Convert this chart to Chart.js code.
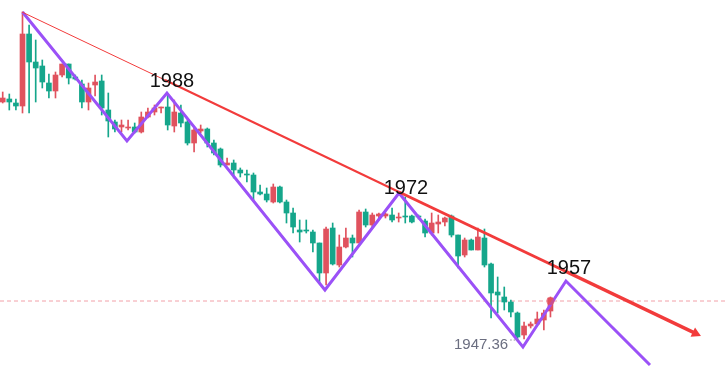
<!DOCTYPE html>
<html>
<head>
<meta charset="utf-8">
<script src="https://cdn.jsdelivr.net/npm/chart.js@4.4.1/dist/chart.umd.min.js"></script>
<style>
  html, body { margin: 0; padding: 0; background: #fff; }
  #wrap { width: 726px; height: 375px; position: relative; }
</style>
</head>
<body>
<div id="wrap"><canvas id="chart"></canvas></div>
<script>
// candles, one per slot (index 0..83)
const open = [
  1986.56, 1987.04, 1986.40, 1985.92, 1997.44, 1992.96, 1992.32, 1989.60, 1988.32, 1990.88,
  1992.64, 1990.56, 1989.44, 1986.56, 1989.28, 1989.92, 1985.28, 1983.36, 1982.56, 1982.40,
  1982.56, 1981.76, 1984.16, 1984.96, 1985.60, 1985.76, 1982.72, 1984.80, 1983.36, 1980.00,
  1981.92, 1982.24, 1980.00, 1979.04, 1976.48, 1976.80, 1975.68, 1975.04, 1974.88, 1972.16,
  1971.84, 1970.56, 1972.96, 1970.56, 1968.80, 1966.08, 1966.08, 1965.76, 1964.00, 1959.20,
  1966.40, 1960.48, 1963.36, 1964.80, 1964.00, 1968.96, 1966.88, 1968.32, 1968.32, 1968.48,
  1968.00, 1968.32, 1968.32, 1968.32, 1967.52, 1965.60, 1967.04, 1967.36, 1968.32, 1965.28,
  1962.08, 1964.48, 1962.88, 1964.80, 1960.64, 1956.16, 1955.36, 1954.56, 1952.80, 1949.28,
  1950.72, 1951.04, 1951.68, 1953.12
];
const high = [
  1988.16, 1987.84, 1987.04, 2000.96, 1998.88, 1996.48, 1993.28, 1991.04, 1991.36, 1992.64,
  1992.64, 1990.88, 1990.08, 1989.60, 1990.88, 1990.88, 1988.00, 1983.68, 1983.68, 1983.68,
  1983.20, 1984.96, 1985.60, 1986.08, 1985.76, 1987.68, 1986.88, 1986.08, 1983.68, 1982.56,
  1982.88, 1982.40, 1980.48, 1979.20, 1977.60, 1977.28, 1976.00, 1975.68, 1975.20, 1973.28,
  1972.80, 1973.44, 1973.12, 1970.88, 1969.60, 1967.68, 1967.68, 1966.08, 1964.00, 1966.56,
  1967.20, 1965.28, 1966.40, 1965.28, 1969.28, 1969.44, 1968.80, 1968.80, 1968.80, 1969.60,
  1968.80, 1971.36, 1968.48, 1968.48, 1967.84, 1968.80, 1968.48, 1968.16, 1968.48, 1965.28,
  1964.80, 1964.64, 1966.40, 1966.24, 1960.80, 1958.56, 1956.96, 1954.88, 1952.96, 1951.36,
  1951.36, 1952.96, 1953.28, 1955.36
];
const low = [
  1986.40, 1985.28, 1985.28, 1984.80, 1984.80, 1986.56, 1988.80, 1987.20, 1987.20, 1990.56,
  1989.44, 1990.08, 1985.60, 1985.28, 1987.52, 1984.48, 1980.96, 1981.76, 1981.76, 1982.08,
  1981.60, 1981.60, 1984.00, 1984.48, 1984.80, 1982.08, 1981.76, 1982.56, 1979.68, 1978.56,
  1981.60, 1979.36, 1978.08, 1976.16, 1976.48, 1974.40, 1974.56, 1973.76, 1970.88, 1971.68,
  1970.56, 1970.40, 1970.40, 1967.20, 1965.60, 1964.16, 1965.60, 1962.56, 1957.60, 1957.28,
  1960.48, 1960.16, 1963.20, 1961.76, 1964.00, 1966.56, 1966.56, 1967.68, 1968.00, 1967.36,
  1967.36, 1967.20, 1967.20, 1967.84, 1964.96, 1965.28, 1965.60, 1966.72, 1964.96, 1960.00,
  1961.76, 1962.88, 1962.88, 1960.16, 1952.00, 1952.80, 1953.28, 1952.16, 1948.48, 1948.64,
  1950.40, 1950.72, 1950.08, 1952.16
];
const close = [
  1987.20, 1986.56, 1985.92, 1997.44, 1992.96, 1992.00, 1989.76, 1988.32, 1990.88, 1992.64,
  1990.40, 1990.24, 1986.56, 1988.80, 1989.76, 1985.60, 1983.52, 1982.24, 1982.88, 1982.56,
  1981.76, 1984.16, 1984.96, 1985.60, 1985.76, 1982.88, 1984.96, 1983.20, 1980.00, 1982.08,
  1982.24, 1980.00, 1978.40, 1976.48, 1976.80, 1975.68, 1975.20, 1974.88, 1972.16, 1971.84,
  1970.88, 1972.96, 1970.56, 1968.80, 1966.56, 1965.76, 1965.92, 1964.00, 1959.20, 1966.24,
  1960.64, 1963.36, 1964.80, 1964.00, 1968.96, 1966.88, 1968.48, 1968.64, 1968.64, 1967.68,
  1968.16, 1968.16, 1967.36, 1968.16, 1965.60, 1967.20, 1967.36, 1968.00, 1965.28, 1961.92,
  1964.48, 1962.88, 1964.96, 1960.48, 1956.00, 1955.68, 1954.56, 1952.96, 1948.96, 1950.72,
  1951.04, 1951.84, 1952.80, 1955.20
];

// wave (zigzag) pivots: slot index / price
const waveX = [3, 18.83, 24.89, 48.83, 60.05, 78.83, 85.35, 98.08];
const waveY = [2000.96, 1980.32, 1988.00, 1956.48, 1972.00, 1947.36, 1957.92, 1944.48];

// falling trend line, read at a few spots along it
const trendX = [2.92, 24.59, 60.05, 85.35, 104.98];
const trendY = [2000.96, 1990.08, 1972.16, 1959.44, 1949.54];

const currentPrice = 1954.72;
const lowPrice = '1947.36';

const RED = '#e0525e';
const GREEN = '#15a68b';
const PURPLE = '#9b51f7';
const TREND = '#f23b3b';

const slots = open.map((_, i) => i);
const candleColors = slots.map(i => close[i] >= open[i] ? RED : GREEN);
const X_MIN = -0.41, X_MAX = 109.6;

const textPlugin = {
  id: 'waveText',
  afterDatasetsDraw(chart) {
    const { ctx, scales: { x, y } } = chart;
    ctx.save();
    ctx.fillStyle = '#111';
    ctx.font = '20px "Liberation Sans", Arial, sans-serif';
    ctx.textAlign = 'center';
    ctx.textBaseline = 'alphabetic';
    [['1988', 25.65, 1988.96], ['1972', 61.1, 1971.84], ['1957', 85.8, 1959.04]].forEach(([t, a, b]) => {
      ctx.fillText(t, x.getPixelForValue(a), y.getPixelForValue(b));
    });
    // low price tag
    ctx.fillStyle = '#6b6e80';
    ctx.font = '15px "Liberation Sans", Arial, sans-serif';
    ctx.textAlign = 'left';
    const lx = x.getPixelForValue(68.38), ly = y.getPixelForValue(1947.04);
    ctx.fillText(lowPrice, lx, ly);
    const w = ctx.measureText(lowPrice).width;
    ctx.strokeStyle = '#8a8c99';
    ctx.lineWidth = 1;
    ctx.setLineDash([1.5, 2]);
    ctx.beginPath();
    ctx.moveTo(lx + w + 2, ly - 9);
    ctx.lineTo(lx + w + 10, ly - 9);
    ctx.stroke();
    ctx.restore();
  }
};

new Chart(document.getElementById('chart'), {
  type: 'bar',
  data: {
    datasets: [
      {
        label: 'wick',
        data: slots.map(i => ({ x: i, y: [low[i], high[i]] })),
        backgroundColor: candleColors,
        grouped: false,
        barPercentage: 1,
        categoryPercentage: 1,
        maxBarThickness: 1,
        order: 9
      },
      {
        label: 'body',
        data: slots.map(i => ({ x: i, y: [Math.min(open[i], close[i]), Math.max(open[i], close[i])] })),
        backgroundColor: candleColors,
        grouped: false,
        barPercentage: 1,
        categoryPercentage: 1,
        maxBarThickness: 5,
        minBarLength: 1,
        order: 8
      },
      {
        type: 'line',
        label: 'price',
        data: [{ x: X_MIN, y: currentPrice }, { x: X_MAX, y: currentPrice }],
        borderColor: '#f2a0a8',
        borderWidth: 1,
        borderDash: [4, 3],
        pointRadius: 0,
        order: 10
      },
      {
        type: 'line',
        label: 'wave',
        data: waveX.map((v, i) => ({ x: v, y: waveY[i] })),
        borderColor: PURPLE,
        borderWidth: 3,
        pointRadius: 0,
        tension: 0,
        order: 3
      },
      {
        type: 'line',
        label: 'trend',
        data: trendX.map((v, i) => ({ x: v, y: trendY[i] })),
        borderColor: TREND,
        borderWidth: 3,
        segment: { borderWidth: c => [1, 2, 3, 3.5][c.p0DataIndex] },
        pointRadius: 0,
        order: 2
      },
      {
        type: 'line',
        label: 'arrow',
        showLine: false,
        data: [{ x: trendX[trendX.length - 1], y: trendY[trendY.length - 1] }],
        pointStyle: 'triangle',
        pointRadius: 6,
        pointRotation: 115.5,
        backgroundColor: TREND,
        borderColor: TREND,
        borderWidth: 0,
        order: 1
      },
      {
        type: 'line',
        label: 'now',
        showLine: false,
        data: [{ x: 83, y: currentPrice }],
        pointRadius: 4,
        backgroundColor: 'rgba(226, 80, 92, 0.65)',
        borderWidth: 0,
        order: 0
      }
    ]
  },
  options: {
    responsive: true,
    maintainAspectRatio: false,
    animation: false,
    events: [],
    layout: { padding: 0, autoPadding: false },
    plugins: { legend: { display: false }, tooltip: { enabled: false } },
    scales: {
      x: { type: 'linear', min: X_MIN, max: X_MAX, offset: false, display: false },
      y: { type: 'linear', min: 1942.88, max: 2002.88, display: false }
    }
  },
  plugins: [textPlugin]
});
</script>
</body>
</html>
